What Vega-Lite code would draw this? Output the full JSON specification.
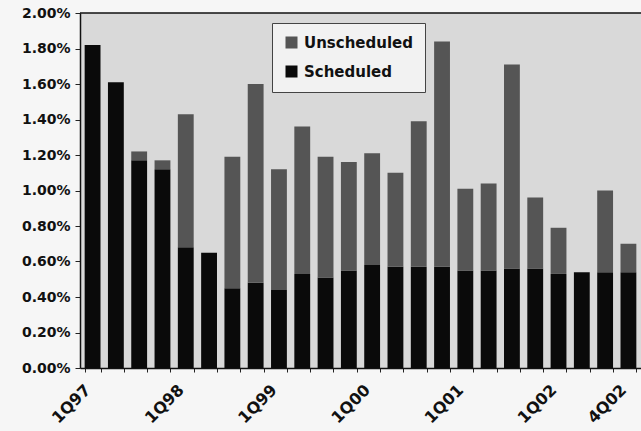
{
  "$schema": "https://vega.github.io/schema/vega-lite/v6.json",
  "width": 561,
  "height": 355,
  "autosize": "none",
  "padding": {"left": 80, "top": 13, "right": 0, "bottom": 63},
  "background": "#f6f6f6",
  "config": {
    "view": {"stroke": null, "fill": "#d9d9d9"},
    "font": "DejaVu Sans"
  },
  "datasets": {
    "rates": [
      {"quarter": "1Q97", "type": "Scheduled", "rate": 0.0182},
      {"quarter": "1Q97", "type": "Unscheduled", "rate": 0.0},
      {"quarter": "2Q97", "type": "Scheduled", "rate": 0.0161},
      {"quarter": "2Q97", "type": "Unscheduled", "rate": 0.0},
      {"quarter": "3Q97", "type": "Scheduled", "rate": 0.0117},
      {"quarter": "3Q97", "type": "Unscheduled", "rate": 0.0005},
      {"quarter": "4Q97", "type": "Scheduled", "rate": 0.0112},
      {"quarter": "4Q97", "type": "Unscheduled", "rate": 0.0005},
      {"quarter": "1Q98", "type": "Scheduled", "rate": 0.0068},
      {"quarter": "1Q98", "type": "Unscheduled", "rate": 0.0075},
      {"quarter": "2Q98", "type": "Scheduled", "rate": 0.0065},
      {"quarter": "2Q98", "type": "Unscheduled", "rate": 0.0},
      {"quarter": "3Q98", "type": "Scheduled", "rate": 0.0045},
      {"quarter": "3Q98", "type": "Unscheduled", "rate": 0.0074},
      {"quarter": "4Q98", "type": "Scheduled", "rate": 0.0048},
      {"quarter": "4Q98", "type": "Unscheduled", "rate": 0.0112},
      {"quarter": "1Q99", "type": "Scheduled", "rate": 0.0044},
      {"quarter": "1Q99", "type": "Unscheduled", "rate": 0.0068},
      {"quarter": "2Q99", "type": "Scheduled", "rate": 0.0053},
      {"quarter": "2Q99", "type": "Unscheduled", "rate": 0.0083},
      {"quarter": "3Q99", "type": "Scheduled", "rate": 0.0051},
      {"quarter": "3Q99", "type": "Unscheduled", "rate": 0.0068},
      {"quarter": "4Q99", "type": "Scheduled", "rate": 0.0055},
      {"quarter": "4Q99", "type": "Unscheduled", "rate": 0.0061},
      {"quarter": "1Q00", "type": "Scheduled", "rate": 0.0058},
      {"quarter": "1Q00", "type": "Unscheduled", "rate": 0.0063},
      {"quarter": "2Q00", "type": "Scheduled", "rate": 0.0057},
      {"quarter": "2Q00", "type": "Unscheduled", "rate": 0.0053},
      {"quarter": "3Q00", "type": "Scheduled", "rate": 0.0057},
      {"quarter": "3Q00", "type": "Unscheduled", "rate": 0.0082},
      {"quarter": "4Q00", "type": "Scheduled", "rate": 0.0057},
      {"quarter": "4Q00", "type": "Unscheduled", "rate": 0.0127},
      {"quarter": "1Q01", "type": "Scheduled", "rate": 0.0055},
      {"quarter": "1Q01", "type": "Unscheduled", "rate": 0.0046},
      {"quarter": "2Q01", "type": "Scheduled", "rate": 0.0055},
      {"quarter": "2Q01", "type": "Unscheduled", "rate": 0.0049},
      {"quarter": "3Q01", "type": "Scheduled", "rate": 0.0056},
      {"quarter": "3Q01", "type": "Unscheduled", "rate": 0.0115},
      {"quarter": "4Q01", "type": "Scheduled", "rate": 0.0056},
      {"quarter": "4Q01", "type": "Unscheduled", "rate": 0.004},
      {"quarter": "1Q02", "type": "Scheduled", "rate": 0.0053},
      {"quarter": "1Q02", "type": "Unscheduled", "rate": 0.0026},
      {"quarter": "2Q02", "type": "Scheduled", "rate": 0.0054},
      {"quarter": "2Q02", "type": "Unscheduled", "rate": 0.0},
      {"quarter": "3Q02", "type": "Scheduled", "rate": 0.0054},
      {"quarter": "3Q02", "type": "Unscheduled", "rate": 0.0046},
      {"quarter": "4Q02", "type": "Scheduled", "rate": 0.0054},
      {"quarter": "4Q02", "type": "Unscheduled", "rate": 0.0016}
    ]
  },
  "resolve": {"axis": {"y": "independent"}},
  "layer": [
    {
      "data": {"name": "rates"},
      "mark": {"type": "bar"},
      "encoding": {
        "x": {
          "field": "quarter",
          "type": "ordinal",
          "sort": null,
          "title": null,
          "scale": {"paddingInner": 0.32, "paddingOuter": 0.2},
          "axis": {
            "labelExpr": "(substring(datum.value, 0, 2) == '1Q' || datum.value == '4Q02') ? datum.value : ''",
            "labelAngle": -45,
            "labelAlign": "right",
            "labelBaseline": "middle",
            "labelFontSize": 16,
            "labelFontWeight": "bold",
            "labelColor": "#111",
            "labelPadding": 15,
            "labelOffset": -5,
            "labelOverlap": false,
            "tickBand": "extent",
            "tickSize": 4,
            "tickColor": "#222",
            "domainColor": "#111",
            "domainWidth": 1.5
          }
        },
        "y": {
          "field": "rate",
          "type": "quantitative",
          "stack": "zero",
          "title": null,
          "scale": {"domain": [0, 0.02], "nice": false},
          "axis": {
            "format": ".2%",
            "values": [0, 0.002, 0.004, 0.006, 0.008, 0.01, 0.012, 0.014, 0.016, 0.018, 0.02],
            "grid": false,
            "labelOverlap": false,
            "labelFontSize": 14,
            "labelFontWeight": "bold",
            "labelColor": "#111",
            "tickSize": 5,
            "tickColor": "#222",
            "labelPadding": 5,
            "domainColor": "#111",
            "domainWidth": 1.5
          }
        },
        "color": {
          "field": "type",
          "type": "nominal",
          "scale": {"domain": ["Unscheduled", "Scheduled"], "range": ["#555555", "#0a0a0a"]},
          "legend": {
            "title": null,
            "orient": "none",
            "legendX": 192,
            "legendY": 10,
            "direction": "vertical",
            "fillColor": "#f2f2f2",
            "strokeColor": "#444",
            "padding": 12,
            "rowPadding": 13,
            "symbolType": "square",
            "symbolSize": 144,
            "symbolStrokeWidth": 0,
            "labelFontSize": 15,
            "labelFontWeight": "bold",
            "labelColor": "#111",
            "labelOffset": 5,
            "labelLimit": 200
          }
        },
        "order": {"field": "type", "sort": "ascending"}
      }
    },
    {
      "data": {"values": [{"top": 0.02}]},
      "mark": {"type": "rule", "color": "#111", "strokeWidth": 1.5},
      "encoding": {"y": {"field": "top", "type": "quantitative", "axis": null}}
    }
  ]
}
